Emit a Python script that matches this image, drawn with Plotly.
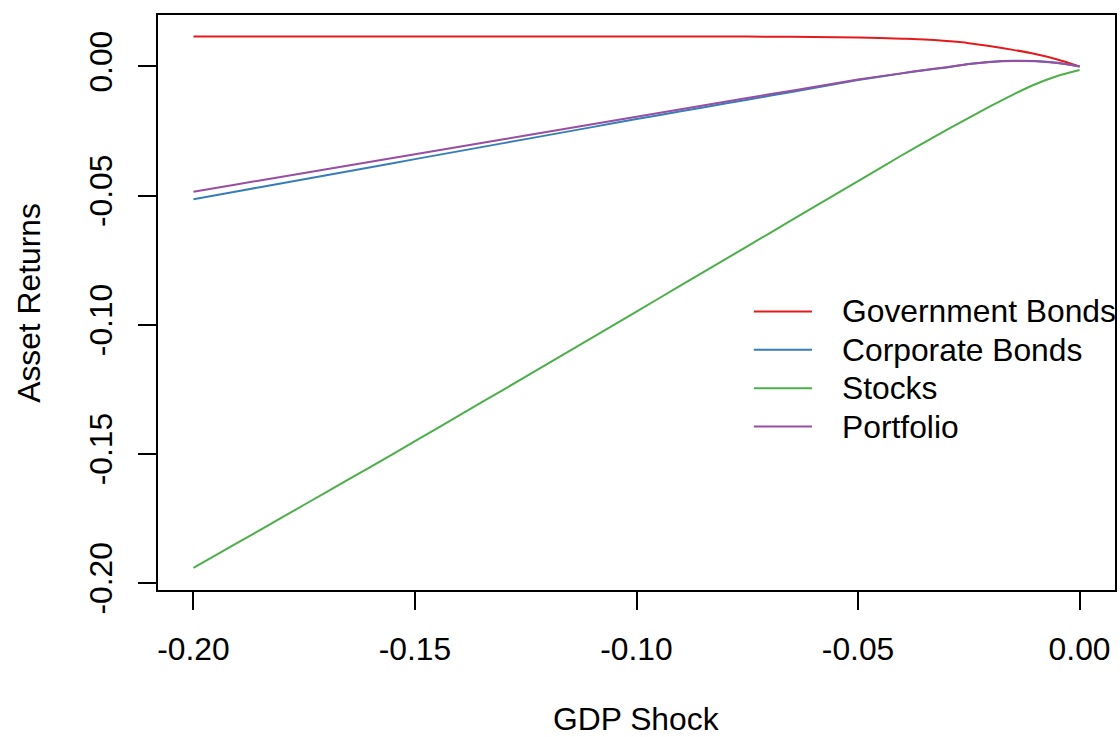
import plotly.graph_objects as go

# GDP shock grid (x values)
gdp_shock = [-0.20, -0.19, -0.18, -0.17, -0.16, -0.15, -0.14, -0.13, -0.12, -0.11,
             -0.10, -0.09, -0.08, -0.07, -0.06, -0.05, -0.04, -0.035, -0.03, -0.025,
             -0.02, -0.015, -0.01, -0.005, 0.0]

government_bonds = [0.0116, 0.0116, 0.0116, 0.0116, 0.0116, 0.0116, 0.0116, 0.0116, 0.0116, 0.0116,
                    0.0116, 0.0116, 0.0116, 0.0115, 0.0114, 0.0112, 0.0107, 0.0104, 0.0098, 0.0090,
                    0.0078, 0.0064, 0.0048, 0.0027, 0.0000]

corporate_bonds = [-0.0514, -0.0483, -0.0452, -0.0421, -0.0390, -0.0359, -0.0328, -0.0297, -0.0266, -0.0235,
                   -0.0204, -0.0174, -0.0144, -0.0114, -0.0084, -0.0053, -0.0027, -0.0015, -0.0004, 0.0009,
                   0.0018, 0.0022, 0.0021, 0.0014, 0.0000]

stocks = [-0.1941, -0.1844, -0.1746, -0.1648, -0.1550, -0.1451, -0.1351, -0.1251, -0.1151, -0.1050,
          -0.0949, -0.0848, -0.0747, -0.0646, -0.0545, -0.0444, -0.0343, -0.0294, -0.0246, -0.0199,
          -0.0153, -0.0109, -0.0069, -0.0037, -0.0014]

portfolio = [-0.0485, -0.0456, -0.0427, -0.0398, -0.0369, -0.0340, -0.0311, -0.0282, -0.0253, -0.0224,
             -0.0195, -0.0166, -0.0137, -0.0108, -0.0080, -0.0051, -0.0026, -0.0014, -0.0003, 0.0009,
             0.0017, 0.0021, 0.0020, 0.0013, 0.0000]

series_names = ["Government Bonds", "Corporate Bonds", "Stocks", "Portfolio"]
series_values = [government_bonds, corporate_bonds, stocks, portfolio]
series_colors = ["#E41A1C", "#377EB8", "#4DAF4A", "#984EA3"]

x_ticks = [-0.20, -0.15, -0.10, -0.05, 0.00]
x_tick_labels = ["-0.20", "-0.15", "-0.10", "-0.05", "0.00"]
y_ticks = [-0.20, -0.15, -0.10, -0.05, 0.00]
y_tick_labels = ["-0.20", "-0.15", "-0.10", "-0.05", "0.00"]

FONT = "Liberation Sans, Arial, Helvetica, sans-serif"
FS = 31.8

fig = go.Figure()
for name, vals, col in zip(series_names, series_values, series_colors):
    fig.add_trace(go.Scatter(x=gdp_shock, y=vals, mode="lines", name=name,
                             line=dict(color=col, width=2, shape="spline", smoothing=0.6),
                             showlegend=False))

# manual R-style legend (no box)
leg_y0 = 0.4844
leg_dy = 0.0667
for i, (name, col) in enumerate(zip(series_names, series_colors)):
    yy = leg_y0 - i * leg_dy
    fig.add_shape(type="line", xref="paper", yref="paper",
                  x0=0.6226, x1=0.6834, y0=yy, y1=yy,
                  line=dict(color=col, width=2))
    fig.add_annotation(xref="paper", yref="paper", x=0.7125, y=yy,
                       text=name, showarrow=False, xanchor="left", yanchor="middle",
                       font=dict(family=FONT, size=FS, color="black"))

# axis titles
fig.add_annotation(xref="paper", yref="paper", x=0.4995, y=-0.2235,
                   text="GDP Shock", showarrow=False, xanchor="center", yanchor="middle",
                   font=dict(family=FONT, size=FS, color="black"))
fig.add_annotation(xref="paper", yref="paper", x=-0.1355, y=0.5,
                   text="Asset Returns", showarrow=False, xanchor="center", yanchor="middle",
                   textangle=-90,
                   font=dict(family=FONT, size=FS, color="black"))

axis_common = dict(showgrid=False, zeroline=False, showline=True, linecolor="black",
                   linewidth=1.5, mirror=True, ticks="outside", ticklen=18,
                   tickwidth=1.5, tickcolor="black",
                   tickfont=dict(family=FONT, size=FS, color="black"))

fig.update_xaxes(range=[-0.208, 0.008], tickvals=x_ticks, ticktext=x_tick_labels,
                 ticklabelstandoff=12, **axis_common)
fig.update_yaxes(range=[-0.2027, 0.0199], tickvals=y_ticks, ticktext=y_tick_labels,
                 tickangle=-90, ticklabelstandoff=14, **axis_common)

fig.update_layout(width=1120, height=737,
                  margin=dict(l=158, r=3, t=15, b=147),
                  paper_bgcolor="white", plot_bgcolor="white",
                  font=dict(family=FONT, size=FS, color="black"))

fig.write_html("out.html")
